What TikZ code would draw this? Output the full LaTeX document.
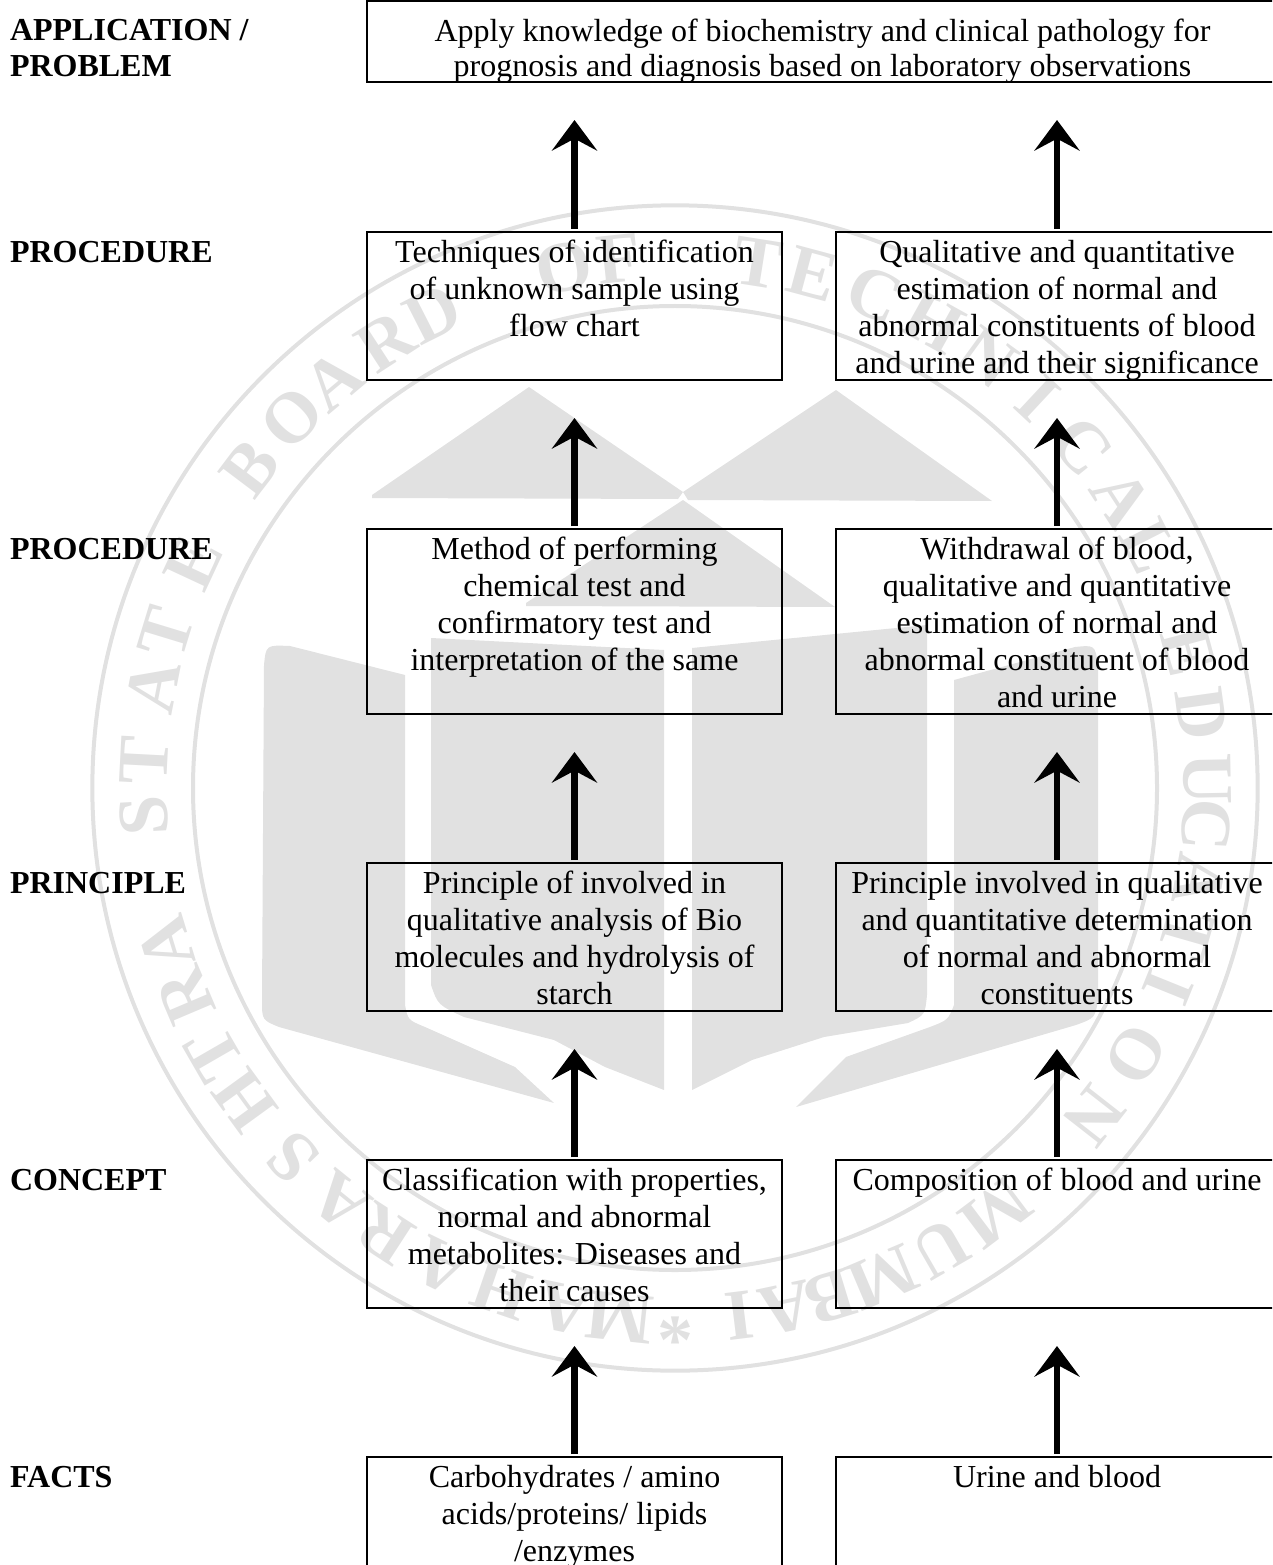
\documentclass[tikz,border=0pt]{standalone}
\usepackage{fontspec}
\usetikzlibrary{arrows.meta}
\setmainfont{Liberation Serif}
\definecolor{wmgrey}{HTML}{E1E1E1}
\tikzset{
  boxnode/.style={draw=black,line width=1.9pt,inner sep=0pt,outer sep=0pt,anchor=north},
  lbox/.style={boxnode,minimum width=311.25pt},
  rbox/.style={boxnode,minimum width=331.5pt},
  txt/.style={anchor=north,inner sep=0pt,outer sep=0pt,align=center,font=\fontsize{24}{27.7}\selectfont},
  lab/.style={anchor=north west,inner sep=0pt,outer sep=0pt,align=left,font=\fontsize{24}{26.5}\selectfont\bfseries},
  arr/.style={line width=5pt,shorten <=2.2pt,shorten >=28.5pt,-{Stealth[length=23pt,width=34pt,inset=9pt]}},
  wm/.style={text=wmgrey,inner sep=0pt,font=\fontsize{54}{54}\selectfont\bfseries},
  wmring/.style={draw=wmgrey,line width=3pt},
  wmshape/.style={fill=wmgrey,draw=none}
}
\begin{document}
\begin{tikzpicture}[x=0.75pt,y=-0.75pt]
\useasboundingbox (0,0) rectangle (1272,1565);
\clip (0,0) rectangle (1272,1565);
% watermark
\draw[wmring] (675,788) circle [radius=437pt];
\draw[wmring] (675,788) circle [radius=361.5pt];
\foreach \t/\a in {M/186,A/192,H/199,A/206,R/213,A/219,S/226,H/234,T/240,R/247,A/253,
  S/267,T/273,A/281,T/287,E/295,B/307,O/314,A/320,R/327,D/333,O/348,F/354,
  T/9,E/15,C/22,H/29,N/36,I/43,C/50,A/57,L/63,
  E/75,D/82,U/89,C/94,A/100,T/106,I/112,O/120,N/128,
  M/143,U/150,M/157,B/163,A/168,I/173,*/180}
  \node[wm,rotate=-\a] (wm\a) at ({675+532*sin(\a)},{788-532*cos(\a)}) {\t};
\fill[wmshape] (529,387) -- (372,495) -- (372,498) -- (678,499) -- (683,492) -- cycle;
\fill[wmshape] (836,390) -- (683,492) -- (688,500) -- (992,501) -- cycle;
\fill[wmshape] (683,500) -- (526,603) -- (526,606) -- (835,607) -- cycle;
\fill[wmshape] (262,1000) .. controls (262,1020) .. (279,1027) -- (554,1103) -- (515,1067) -- (425,1027) .. controls (408,1020) .. (405,1005) -- (405,675) -- (290,646) .. controls (266,645) .. (264,665) -- cycle;
\fill[wmshape] (431,638) -- (664,650) -- (664,1090) -- (605,1067) -- (554,1040) -- (464,1017) .. controls (438,1005) .. (431,985) -- cycle;
\fill[wmshape] (692,648) -- (927,625) -- (927,995) .. controls (925,1015) .. (908,1023) -- (824,1037) -- (752,1060) -- (692,1090) -- cycle;
\fill[wmshape] (954,680) -- (1075,647) .. controls (1095,645) .. (1098,665) -- (1098,1000) .. controls (1095,1018) .. (1076,1025) -- (796,1107) -- (846,1057) -- (930,1027) .. controls (948,1020) .. (954,1005) -- cycle;
% boxes
\node[boxnode,minimum width=683.25pt,minimum height=60.75pt] (top) at (822.5,1) {};
\node[lbox,minimum height=111pt] (l5) at (574.5,232) {};
\node[rbox,minimum height=111pt] (r5) at (1057,232) {};
\node[lbox,minimum height=138.75pt] (l4) at (574.5,529) {};
\node[rbox,minimum height=138.75pt] (r4) at (1057,529) {};
\node[lbox,minimum height=111pt] (l3) at (574.5,863) {};
\node[rbox,minimum height=111pt] (r3) at (1057,863) {};
\node[lbox,minimum height=111pt] (l2) at (574.5,1160) {};
\node[rbox,minimum height=111pt] (r2) at (1057,1160) {};
\node[lbox,minimum height=120pt] (l1) at (574.5,1457) {};
\node[rbox,minimum height=120pt] (r1) at (1057,1457) {};
% arrows
\draw[arr] (l1.north) -- (l2.south);
\draw[arr] (r1.north) -- (r2.south);
\draw[arr] (l2.north) -- (l3.south);
\draw[arr] (r2.north) -- (r3.south);
\draw[arr] (l3.north) -- (l4.south);
\draw[arr] (r3.north) -- (r4.south);
\draw[arr] (l4.north) -- (l5.south);
\draw[arr] (r4.north) -- (r5.south);
\draw[arr] (l5.north) -- (l5.north |- top.south);
\draw[arr] (r5.north) -- (r5.north |- top.south);
% texts
\node[txt] (ttop) at (822.5,16) {\strut Apply knowledge of biochemistry and clinical pathology for\\[-1.5pt]prognosis and diagnosis based on laboratory observations};
\node[txt] (tl5) at (574.5,237) {\strut Techniques of identification\\of unknown sample using\\flow chart};
\node[txt] (tr5) at (1057,237) {\strut Qualitative and quantitative\\estimation of normal and\\abnormal constituents of blood\\and urine and their significance};
\node[txt] (tl4) at (574.5,534) {\strut Method of performing\\chemical test and\\confirmatory test and\\interpretation of the same};
\node[txt] (tr4) at (1057,534) {\strut Withdrawal of blood,\\qualitative and quantitative\\estimation of normal and\\abnormal constituent of blood\\and urine};
\node[txt] (tl3) at (574.5,868) {\strut Principle of involved in\\qualitative analysis of Bio\\molecules and hydrolysis of\\starch};
\node[txt] (tr3) at (1057,868) {\strut Principle involved in qualitative\\and quantitative determination\\of normal and abnormal\\constituents};
\node[txt] (tl2) at (574.5,1165) {\strut Classification with properties,\\normal and abnormal\\metabolites: Diseases and\\their causes};
\node[txt] (tr2) at (1057,1165) {\strut Composition of blood and urine};
\node[txt] (tl1) at (574.5,1462) {\strut Carbohydrates / amino\\acids/proteins/ lipids\\/enzymes};
\node[txt] (tr1) at (1057,1462) {\strut Urine and blood};
% labels
\node[lab] (a) at (10,16) {\strut APPLICATION /\\PROBLEM};
\node[lab] (b) at (10,238) {\strut PROCEDURE};
\node[lab] (c) at (10,535) {\strut PROCEDURE};
\node[lab] (d) at (10,869) {\strut PRINCIPLE};
\node[lab] (e) at (10,1166) {\strut CONCEPT};
\node[lab] (f) at (10,1463) {\strut FACTS};
\end{tikzpicture}
\end{document}
